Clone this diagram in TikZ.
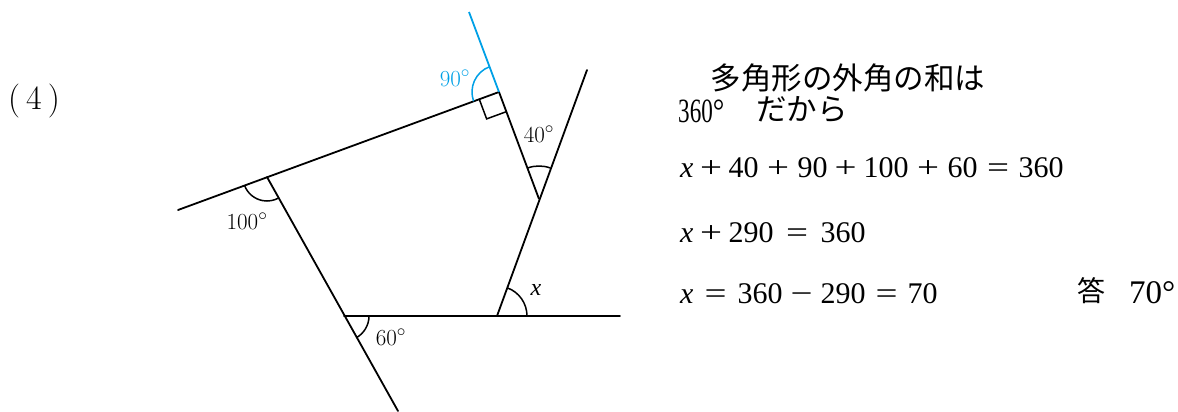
\documentclass[tikz,border=0pt]{standalone}
\usepackage{fontspec}
\usepackage{graphicx}
\newfontfamily\jpfont{Noto Sans CJK JP}
\newfontfamily\tmsfont{Liberation Serif}
\usetikzlibrary{calc}
\definecolor{skyb}{RGB}{0,160,230}
\newcommand\opbox[2]{\makebox[#1pt]{\scalebox{1.3}[1]{#2}}}
\begin{document}
\begin{tikzpicture}[x=1pt,y=1pt,
  edge/.style={line width=1.8pt,line cap=round},
  anglemark/.style={line width=1.5pt},
  lbl/.style={inner sep=0pt,font=\fontsize{23}{25}\selectfont},
  eq/.style={inner sep=0pt,anchor=base west,font=\tmsfont\fontsize{30}{34}\selectfont},
  jtxt/.style={inner sep=0pt,anchor=base west,font=\jpfont\fontsize{30.5}{34}\selectfont}]
\useasboundingbox (0,0) rectangle (1178,-412);
% points
\coordinate (A) at (499,-92);
\coordinate (P) at (469,-12);
\coordinate (C) at (539,-199);
\coordinate (Q) at (587,-70);
\coordinate (D) at (497,-316);
\coordinate (R) at (620,-316);
\coordinate (E) at (344,-316);
\coordinate (S) at (398,-411);
\coordinate (B) at (267,-177);
\coordinate (T) at (178,-210);
% sides
\draw[edge] (T) -- (A);
\draw[edge,line cap=butt] (A) -- (C);
\draw[edge] (Q) -- (D);
\draw[edge] (E) -- (R);
\draw[edge] (B) -- (S);
\draw[edge,skyb,line cap=butt] (A) -- (P);
% right angle mark
\draw[anglemark] ($(A)+(200.12:21)$) -- ($(A)+(200.12:21)+(290.5:21)$) -- ($(A)+(290.5:21)$);
% angle arcs
\draw[anglemark,skyb] (A) ++(110.56:27) arc[start angle=110.56,end angle=200.12,radius=27];
\draw[anglemark] (C) ++(69.6:33) arc[start angle=69.6,end angle=110.5,radius=33];
\draw[anglemark] (B) ++(200.12:24) arc[start angle=200.12,end angle=299.2,radius=24];
\draw[anglemark] (E) ++(-60.6:25) arc[start angle=-60.6,end angle=0,radius=25];
\draw[anglemark] (D) ++(0:30) arc[start angle=0,end angle=69.6,radius=30];
% labels
\node[lbl,text=skyb] (l90) at (455,-78) {90$^\circ$};
\node[lbl] (l40) at (539,-134) {40$^\circ$};
\node[lbl] (l100) at (247,-221) {100$^\circ$};
\node[lbl] (l60) at (391,-337) {60$^\circ$};
\node[lbl,font=\tmsfont\itshape\fontsize{24}{26}\selectfont] (lx) at (536,-290) {x};
% problem number
\node[inner sep=0pt,anchor=base west,font=\fontsize{34}{38}\selectfont] (num) at (8,-110) {(\kern6pt4\kern6pt)};
% text
\node[jtxt] (t1) at (680,-89) {　多角形の外角の和は};
\node[inner sep=0pt,anchor=base west,font=\tmsfont\fontsize{34}{36}\selectfont] (t2a) at (678,-122) {\scalebox{0.68}[1]{360}\scalebox{0.85}[1]{°}};
\node[jtxt] (t2b) at (756,-121) {だから};
\node[eq] (e1) at (680,-177) {\textit{x}\opbox{35}{+}40\opbox{39}{+}90\opbox{36}{+}100\opbox{39}{+}60\opbox{41}{=}360};
\node[eq] (e2) at (680,-242) {\textit{x}\opbox{35}{+}290\opbox{47}{=}360};
\node[eq] (e3) at (680,-303) {\textit{x}\opbox{44}{=}360\opbox{38}{−}290\opbox{42}{=}70};
\node[jtxt,font=\jpfont\fontsize{28}{32}\selectfont] (ans) at (1077,-301) {答};
\node[eq,font=\tmsfont\fontsize{33}{34}\selectfont] (ansv) at (1129,-303) {70°};
\end{tikzpicture}
\end{document}
